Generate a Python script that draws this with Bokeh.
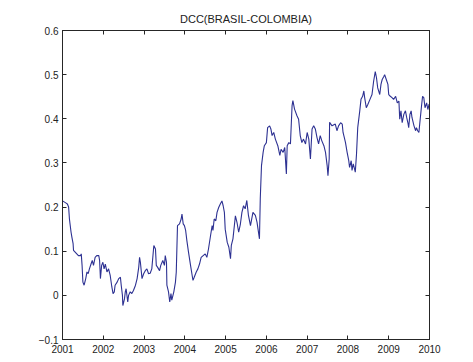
from bokeh.plotting import figure
from bokeh.models import LinearAxis, FixedTicker, Range1d, CustomJSTickFormatter
from bokeh.embed import file_html
from bokeh.resources import INLINE

# ---- data ----
years = [
    2001.00, 2001.07, 2001.12, 2001.15, 2001.17, 2001.21, 2001.23, 2001.26, 2001.27, 2001.31,
    2001.35, 2001.39, 2001.44, 2001.46, 2001.48, 2001.50, 2001.53, 2001.57, 2001.60, 2001.63,
    2001.66, 2001.70, 2001.73, 2001.76, 2001.80, 2001.84, 2001.89, 2001.91, 2001.93, 2001.96,
    2001.99, 2002.02, 2002.05, 2002.09, 2002.13, 2002.17, 2002.21, 2002.24, 2002.27, 2002.29,
    2002.34, 2002.38, 2002.42, 2002.44, 2002.47, 2002.48, 2002.52, 2002.54, 2002.56, 2002.60,
    2002.62, 2002.66, 2002.70, 2002.74, 2002.79, 2002.83, 2002.87, 2002.89, 2002.91, 2002.95,
    2002.99, 2003.03, 2003.07, 2003.11, 2003.15, 2003.19, 2003.24, 2003.28, 2003.30, 2003.33,
    2003.38, 2003.41, 2003.46, 2003.50, 2003.52, 2003.55, 2003.56, 2003.60, 2003.63, 2003.66,
    2003.68, 2003.73, 2003.77, 2003.79, 2003.82, 2003.87, 2003.91, 2003.93, 2003.96, 2003.99,
    2004.02, 2004.05, 2004.09, 2004.14, 2004.18, 2004.20, 2004.23, 2004.28, 2004.32, 2004.36,
    2004.40, 2004.45, 2004.50, 2004.54, 2004.58, 2004.63, 2004.67, 2004.69, 2004.72, 2004.76,
    2004.79, 2004.83, 2004.87, 2004.91, 2004.94, 2004.97, 2004.99, 2005.04, 2005.08, 2005.12,
    2005.14, 2005.18, 2005.24, 2005.28, 2005.32, 2005.36, 2005.40, 2005.44, 2005.48, 2005.52,
    2005.56, 2005.61, 2005.67, 2005.73, 2005.77, 2005.83, 2005.85, 2005.88, 2005.92, 2005.95,
    2006.00, 2006.03, 2006.08, 2006.11, 2006.14, 2006.18, 2006.22, 2006.28, 2006.33, 2006.36,
    2006.41, 2006.45, 2006.49, 2006.51, 2006.55, 2006.59, 2006.63, 2006.65, 2006.69, 2006.75,
    2006.79, 2006.83, 2006.87, 2006.91, 2006.96, 2007.00, 2007.04, 2007.08, 2007.12, 2007.16,
    2007.20, 2007.24, 2007.28, 2007.32, 2007.36, 2007.41, 2007.45, 2007.49, 2007.51, 2007.54,
    2007.55, 2007.61, 2007.69, 2007.73, 2007.77, 2007.82, 2007.86, 2007.88, 2007.91, 2007.94,
    2007.98, 2008.02, 2008.04, 2008.08, 2008.10, 2008.13, 2008.16, 2008.18, 2008.21, 2008.24,
    2008.29, 2008.32, 2008.36, 2008.39, 2008.41, 2008.45, 2008.49, 2008.54, 2008.59, 2008.63,
    2008.67, 2008.70, 2008.73, 2008.78, 2008.81, 2008.84, 2008.88, 2008.90, 2008.94, 2008.98,
    2009.00, 2009.04, 2009.08, 2009.12, 2009.17, 2009.21, 2009.25, 2009.27, 2009.30, 2009.33,
    2009.37, 2009.41, 2009.44, 2009.47, 2009.49, 2009.52, 2009.55, 2009.57, 2009.62, 2009.66,
    2009.68, 2009.71, 2009.74, 2009.76, 2009.80, 2009.83, 2009.86, 2009.89, 2009.93, 2009.96,
    2009.99,
]
dcc = [
    0.214, 0.210, 0.207, 0.200, 0.173, 0.143, 0.132, 0.117, 0.102, 0.098,
    0.094, 0.090, 0.090, 0.094, 0.068, 0.030, 0.023, 0.038, 0.053, 0.049,
    0.060, 0.071, 0.079, 0.068, 0.086, 0.090, 0.090, 0.079, 0.038, 0.068,
    0.075, 0.060, 0.071, 0.053, 0.060, 0.045, 0.019, 0.004, 0.008, 0.023,
    0.030, 0.038, 0.041, 0.023, 0.000, -0.023, -0.008, 0.008, 0.015, -0.015,
    0.000, 0.008, 0.004, 0.011, 0.023, 0.038, 0.064, 0.086, 0.075, 0.038,
    0.049, 0.056, 0.060, 0.049, 0.050, 0.060, 0.113, 0.105, 0.068, 0.064,
    0.056, 0.068, 0.079, 0.068, 0.090, 0.075, 0.023, 0.008, -0.015, 0.004,
    -0.011, 0.008, 0.030, 0.053, 0.158, 0.162, 0.173, 0.184, 0.162, 0.158,
    0.147, 0.124, 0.098, 0.068, 0.045, 0.034, 0.041, 0.053, 0.060, 0.071,
    0.086, 0.090, 0.094, 0.086, 0.105, 0.135, 0.158, 0.147, 0.173, 0.169,
    0.188, 0.199, 0.207, 0.214, 0.203, 0.188, 0.150, 0.120, 0.109, 0.083,
    0.113, 0.128, 0.180, 0.165, 0.143, 0.160, 0.188, 0.203, 0.196, 0.215,
    0.181, 0.158, 0.188, 0.181, 0.166, 0.128, 0.219, 0.294, 0.324, 0.339,
    0.346, 0.380, 0.384, 0.377, 0.362, 0.369, 0.354, 0.339, 0.317, 0.331,
    0.324, 0.335, 0.275, 0.339, 0.346, 0.343, 0.430, 0.441, 0.422, 0.407,
    0.399, 0.362, 0.346, 0.354, 0.343, 0.369, 0.354, 0.309, 0.377, 0.384,
    0.377, 0.358, 0.343, 0.362, 0.350, 0.339, 0.324, 0.294, 0.271, 0.309,
    0.392, 0.384, 0.388, 0.373, 0.384, 0.391, 0.388, 0.369, 0.358, 0.346,
    0.324, 0.305, 0.290, 0.305, 0.283, 0.298, 0.287, 0.279, 0.320, 0.380,
    0.418, 0.444, 0.451, 0.463, 0.448, 0.425, 0.433, 0.444, 0.455, 0.485,
    0.507, 0.493, 0.470, 0.455, 0.478, 0.489, 0.496, 0.500, 0.489, 0.478,
    0.455, 0.451, 0.448, 0.444, 0.451, 0.436, 0.440, 0.399, 0.418, 0.391,
    0.410, 0.418, 0.403, 0.391, 0.380, 0.410, 0.418, 0.403, 0.384, 0.373,
    0.380, 0.373, 0.369, 0.388, 0.425, 0.451, 0.448, 0.425, 0.436, 0.421,
    0.433,
]
x_ticks = [2001, 2002, 2003, 2004, 2005, 2006, 2007, 2008, 2009, 2010]
y_ticks = [-0.1, 0.0, 0.1, 0.2, 0.3, 0.4, 0.5, 0.6]
title_text = "DCC(BRASIL-COLOMBIA)"

FONT = "Liberation Sans"
AX = "#262626"

p = figure(width=473, height=362, output_backend="svg", toolbar_location=None,
           x_range=Range1d(2001, 2010), y_range=Range1d(-0.1, 0.6),
           min_border_left=62, min_border_right=44, min_border_top=30,
           min_border_bottom=23, background_fill_color="white",
           border_fill_color="white")
p.outline_line_color = AX
p.outline_line_width = 1
p.grid.visible = False

p.title.text = title_text
p.title.align = "center"
p.title.text_font = FONT
p.title.text_font_style = "normal"
p.title.text_font_size = "11px"
p.title.text_color = "#222222"
p.title.standoff = 11

def style(ax, standoff):
    ax.major_tick_in = 4
    ax.major_tick_out = 0
    ax.minor_tick_line_color = None
    ax.axis_line_color = AX
    ax.major_tick_line_color = AX
    ax.major_label_text_font = FONT
    ax.major_label_text_color = "#222222"
    ax.major_label_text_font_size = "10px"
    ax.major_label_standoff = standoff

p.xaxis.ticker = FixedTicker(ticks=x_ticks)
p.yaxis.ticker = FixedTicker(ticks=y_ticks)
p.yaxis.major_label_overrides = {0: "0"}
style(p.xaxis[0], 5)
style(p.yaxis[0], 4)

blank = CustomJSTickFormatter(code="return ''")
top = LinearAxis(ticker=FixedTicker(ticks=x_ticks), formatter=blank)
style(top, 0)
p.add_layout(top, "above")
right = LinearAxis(ticker=FixedTicker(ticks=y_ticks), formatter=blank)
style(right, 0)
p.add_layout(right, "right")

p.line(years, dcc, line_color="#2D3192", line_width=1.1)

open("out.html", "w").write(file_html(p, INLINE))
